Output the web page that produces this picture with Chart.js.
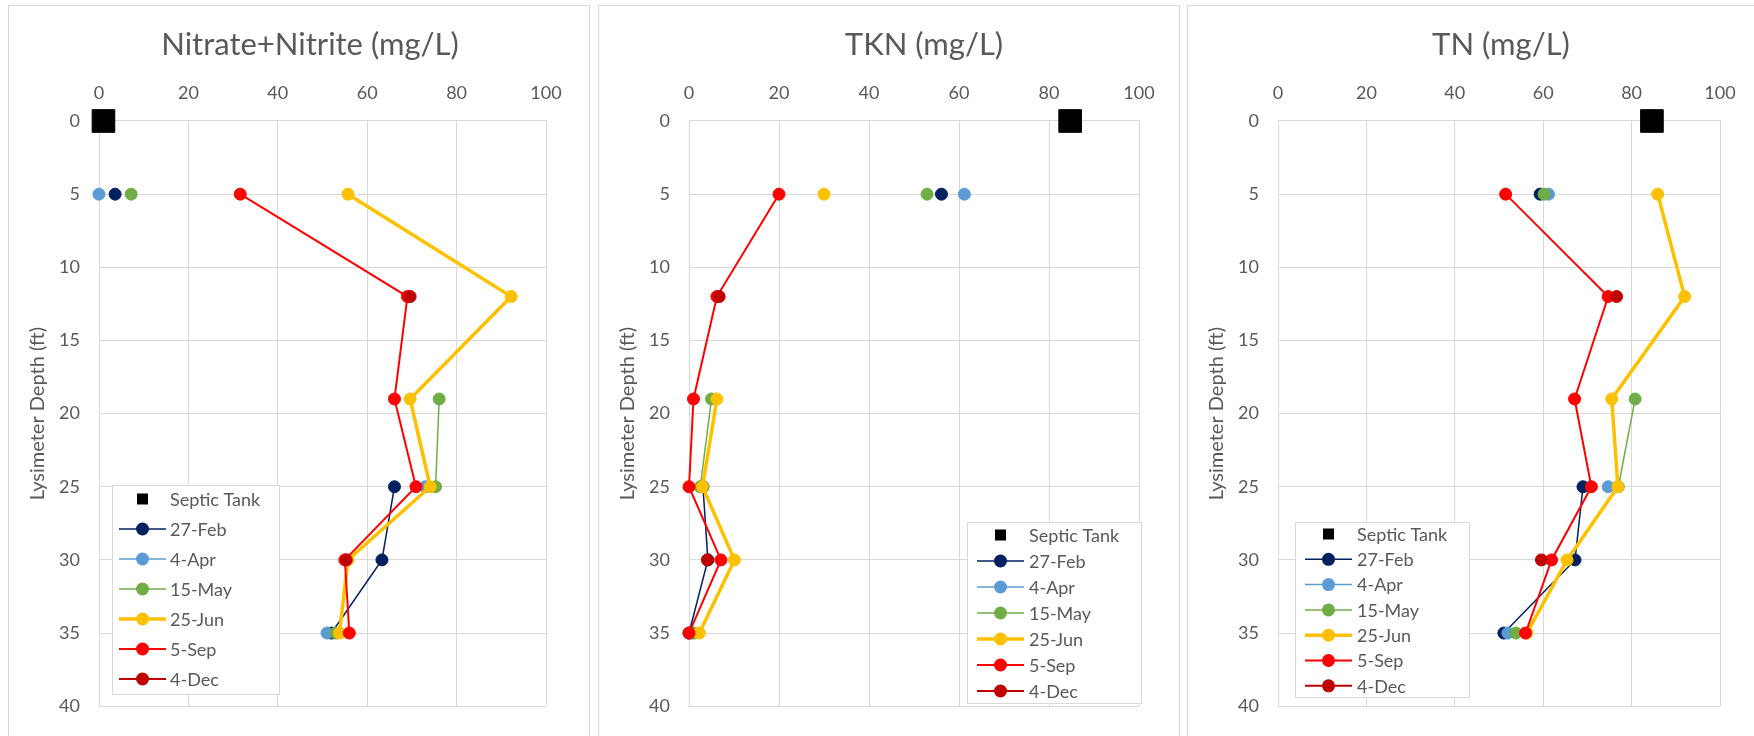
<!DOCTYPE html>
<html>
<head>
<meta charset="utf-8">
<title>Lysimeter nitrogen profiles</title>
<script src="https://cdn.jsdelivr.net/npm/chart.js@4.4.1/dist/chart.umd.min.js"></script>
<style>
  html, body { margin: 0; padding: 0; background: #fff; overflow: hidden; }
  body { width: 1754px; height: 736px; position: relative; }
  .panel { position: absolute; top: 5px; width: 582px; height: 760px; border: 1px solid #d9d9d9; box-sizing: border-box; }
  .panel canvas { position: absolute; left: -1px; top: -1px; }
</style>
</head>
<body>
<div class="panel" style="left:8px"><canvas id="c1" width="581" height="731"></canvas></div>
<div class="panel" style="left:598px"><canvas id="c2" width="581" height="731"></canvas></div>
<div class="panel" style="left:1187px"><canvas id="c3" width="581" height="731"></canvas></div>
<script>
// lysimeter depths (ft); the septic tank sample sits at depth 0
const depths = [5, 12, 19, 25, 30, 35];
const tankDepth = [0];
const dates = ["27-Feb", "4-Apr", "15-May", "25-Jun", "5-Sep", "4-Dec"];
const xTicks = [0, 20, 40, 60, 80, 100];
const yTicks = [0, 5, 10, 15, 20, 25, 30, 35, 40];

// Nitrate+Nitrite (mg/L)
const no3Tank = [1];
const no3Feb = [3.6, null, null, 66.1, 63.3, 52];
const no3Apr = [0, null, null, 73, null, 51];
const no3May = [7.2, null, 76.1, 75.3, null, 53];
const no3Jun = [55.7, 92.2, 69.6, 74.1, 55.7, 53.8];
const no3Sep = [31.6, 69, 66.1, 70.9, 55, 56];
const no3Dec = [null, 69.6, null, null, 55.3, null];

// TKN (mg/L)
const tknTank = [84.7];
const tknFeb = [56.1, null, null, 3.1, 4.2, 0];
const tknApr = [61.2, null, null, 2.8, null, 0.5];
const tknMay = [52.9, null, 5, 2.5, null, 1];
const tknJun = [30, null, 6.2, 3, 10.1, 2.3];
const tknSep = [20, 6.2, 1, 0, 7.1, 0];
const tknDec = [null, 6.7, null, null, 4.1, null];

// TN (mg/L)
const tnTank = [84.6];
const tnFeb = [59.3, null, null, 69, 67.2, 51.1];
const tnApr = [61.2, null, null, 74.7, null, 52];
const tnMay = [60.2, null, 80.8, 77, null, 53.8];
const tnJun = [85.9, 92, 75.5, 76.9, 65.4, 56.3];
const tnSep = [51.5, 74.7, 67.1, 70.9, 61.9, 56];
const tnDec = [null, 76.6, null, null, 59.6, null];

const colors = ["#002060", "#5B9BD5", "#70AD47", "#FFC000", "#FF0000", "#C00000"];
const widths = [1.5, 1.5, 1.5, 3.5, 2, 2];
const FONT = "Lato, 'Open Sans', sans-serif";
const GREY = "#595959";
const GRID = "#d9d9d9";

function pts(vals, ys) {
  return vals.map((v, i) => ({ x: v, y: ys[i] }));
}

// legend drawn inside the plot area, like the spreadsheet original;
// also moves the chart title to where the original has it
const boxLegend = {
  id: "boxLegend",
  afterLayout(chart, args, o) {
    const t = chart.titleBlock;
    t.left = o.titleCenter - 250;
    t.right = o.titleCenter + 250;
  },
  afterDraw(chart, args, o) {
    const ctx = chart.ctx;
    ctx.save();
    ctx.fillStyle = "#fff";
    ctx.fillRect(o.left, o.top, o.width, o.height);
    ctx.strokeStyle = GRID;
    ctx.lineWidth = 1;
    ctx.strokeRect(o.left + 0.5, o.top + 0.5, o.width, o.height);
    ctx.font = "18px " + FONT;
    ctx.textBaseline = "middle";
    chart.data.datasets.forEach((ds, i) => {
      const y = o.top + o.first + i * o.row;
      const mx = o.left + (o.lineStart + o.lineEnd) / 2;
      if (ds.pointStyle === "rect") {
        ctx.fillStyle = ds.backgroundColor;
        ctx.fillRect(mx - 5.5, y - 5.5, 11, 11);
      } else {
        ctx.strokeStyle = ds.borderColor;
        ctx.lineWidth = ds.borderWidth;
        ctx.beginPath();
        ctx.moveTo(o.left + o.lineStart, y);
        ctx.lineTo(o.left + o.lineEnd, y);
        ctx.stroke();
        ctx.fillStyle = ds.backgroundColor;
        ctx.beginPath();
        ctx.arc(mx, y, 6.5, 0, Math.PI * 2);
        ctx.fill();
      }
      ctx.fillStyle = GREY;
      ctx.fillText(ds.label, o.left + o.textX, y + 1);
    });
    ctx.restore();
  }
};

function makeChart(id, title, tank, series, padRight, legend) {
  const datasets = [{
    label: "Septic Tank",
    data: pts(tank, tankDepth),
    pointStyle: "rect",
    pointRadius: 16,
    pointBorderWidth: 1,
    backgroundColor: "#000",
    borderColor: "#000",
    showLine: false,
    clip: false,
    order: 10
  }];
  series.forEach((vals, i) => {
    datasets.push({
      label: dates[i],
      data: pts(vals, depths),
      borderColor: colors[i],
      backgroundColor: colors[i],
      pointBorderColor: colors[i],
      borderWidth: widths[i],
      pointRadius: 6,
      pointBorderWidth: 1,
      showLine: true,
      spanGaps: false,
      clip: false,
      order: 9 - i
    });
  });

  return new Chart(document.getElementById(id), {
    type: "scatter",
    data: { datasets },
    options: {
      responsive: false,
      animation: false,
      layout: { padding: { left: 0, top: 0, right: padRight, bottom: 25 } },
      plugins: {
        legend: { display: false },
        tooltip: { enabled: false },
        title: {
          display: true,
          text: title,
          color: GREY,
          font: { family: FONT, size: 31, weight: "normal", lineHeight: 1.2 },
          padding: { top: 21.4, bottom: 0 }
        },
        boxLegend: legend
      },
      scales: {
        x: {
          type: "linear",
          position: "top",
          min: 0,
          max: 100,
          afterBuildTicks: s => { s.ticks = xTicks.map(v => ({ value: v })); },
          afterFit: s => { s.height = 116 - 21.4 - 37.2; },
          grid: { color: GRID, drawTicks: false },
          border: { color: GRID },
          ticks: { color: GREY, padding: 17, font: { family: FONT, size: 18 } }
        },
        y: {
          type: "linear",
          reverse: true,
          min: 0,
          max: 40,
          afterBuildTicks: s => { s.ticks = yTicks.map(v => ({ value: v })); },
          afterFit: s => { s.width = 91; },
          grid: { color: GRID, drawTicks: false },
          border: { color: GRID },
          ticks: { color: GREY, padding: 19, font: { family: FONT, size: 18 } },
          title: {
            display: true,
            text: "Lysimeter Depth (ft)",
            color: GREY,
            font: { family: FONT, size: 20, lineHeight: 1.2 },
            padding: { top: 18, bottom: 0 }
          }
        }
      }
    },
    plugins: [boxLegend]
  });
}

makeChart("c1", "Nitrate+Nitrite (mg/L)", no3Tank,
  [no3Feb, no3Apr, no3May, no3Jun, no3Sep, no3Dec], 43,
  { titleCenter: 302, left: 104, top: 480, width: 167, height: 209, first: 14, row: 30, lineStart: 7, lineEnd: 54, textX: 58 });
makeChart("c2", "TKN (mg/L)", tknTank,
  [tknFeb, tknApr, tknMay, tknJun, tknSep, tknDec], 40,
  { titleCenter: 326, left: 369, top: 517, width: 174, height: 181, first: 13, row: 26, lineStart: 10, lineEnd: 57, textX: 62 });
makeChart("c3", "TN (mg/L)", tnTank,
  [tnFeb, tnApr, tnMay, tnJun, tnSep, tnDec], 48,
  { titleCenter: 314, left: 108, top: 517, width: 174, height: 175, first: 12, row: 25.3, lineStart: 10, lineEnd: 57, textX: 62 });
</script>
</body>
</html>
